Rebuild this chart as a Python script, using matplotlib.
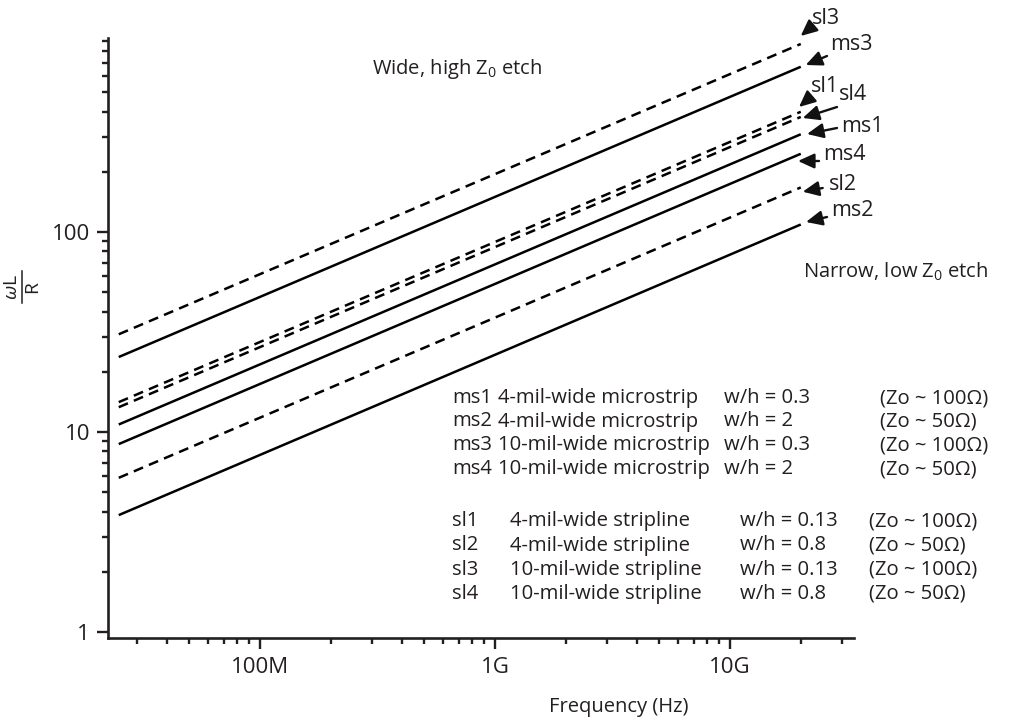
import matplotlib
matplotlib.use("Agg")
import matplotlib.pyplot as plt
from matplotlib.patches import ArrowStyle
from matplotlib.lines import Line2D

plt.rcParams['font.family'] = ['Open Sans', 'DejaVu Sans']
plt.rcParams['mathtext.fontset'] = 'custom'
plt.rcParams['mathtext.rm'] = 'Open Sans'
plt.rcParams['mathtext.it'] = 'Open Sans:italic'
plt.rcParams['mathtext.bf'] = 'Open Sans:bold'
plt.rcParams['lines.scale_dashes'] = False

# ---- data ----
freq = [25e6, 20e9]  # Hz, start and end of every line
series_names = ["sl3", "ms3", "sl1", "sl4", "ms1", "ms4", "sl2", "ms2"]
series_dashed = [True, False, True, True, False, False, True, False]
sl3 = [30.8, 871]
ms3 = [23.7, 670]
sl1 = [14.1, 399]
sl4 = [13.3, 376]
ms1 = [10.9, 308]
ms4 = [8.7, 246]
sl2 = [5.9, 167]
ms2 = [3.84, 109]
series_values = [sl3, ms3, sl1, sl4, ms1, ms4, sl2, ms2]

xticks = [1e8, 1e9, 1e10]
xtick_labels = ["100M", "1G", "10G"]
yticks = [1, 10, 100]
ytick_labels = ["1", "10", "100"]

legend_ids = ["ms1", "ms2", "ms3", "ms4", "sl1", "sl2", "sl3", "sl4"]
legend_desc = ["4-mil-wide microstrip", "4-mil-wide microstrip",
               "10-mil-wide microstrip", "10-mil-wide microstrip",
               "4-mil-wide stripline", "4-mil-wide stripline",
               "10-mil-wide stripline", "10-mil-wide stripline"]
legend_wh = ["w/h = 0.3", "w/h = 2", "w/h = 0.3", "w/h = 2",
             "w/h = 0.13", "w/h = 0.8", "w/h = 0.13", "w/h = 0.8"]
legend_zo = ["(Zo ~ 100\u03a9)", "(Zo ~ 50\u03a9)", "(Zo ~ 100\u03a9)", "(Zo ~ 50\u03a9)",
             "(Zo ~ 100\u03a9)", "(Zo ~ 50\u03a9)", "(Zo ~ 100\u03a9)", "(Zo ~ 50\u03a9)"]

TXT = '#231f20'
W, H = 1009, 727
fig = plt.figure(figsize=(W / 100, H / 100), dpi=100)
ax = fig.add_axes([108 / W, 1 - 638 / H, (854 - 108) / W, (638 - 38) / H])

for name, vals, dashed in zip(series_names, series_values, series_dashed):
    if dashed:
        ax.plot(freq, vals, color='black', lw=1.8, dashes=(7.2, 4.6),
                solid_capstyle='butt', dash_capstyle='butt')
    else:
        ax.plot(freq, vals, color='black', lw=1.8, solid_capstyle='butt')

ax.set_xscale('log')
ax.set_yscale('log')
ax.set_xlim(22.5e6, 3.37e10)
ax.set_ylim(0.933, 933)

ax.set_xticks(xticks)
ax.set_xticklabels(xtick_labels)
ax.set_yticks(yticks)
ax.set_yticklabels(ytick_labels)
ax.xaxis.set_minor_locator(matplotlib.ticker.LogLocator(base=10, subs=range(2, 10), numticks=20))
ax.yaxis.set_minor_locator(matplotlib.ticker.LogLocator(base=10, subs=range(2, 10), numticks=20))
ax.xaxis.set_minor_formatter(matplotlib.ticker.NullFormatter())
ax.yaxis.set_minor_formatter(matplotlib.ticker.NullFormatter())

for s in ['top', 'right']:
    ax.spines[s].set_visible(False)
for s in ['left', 'bottom']:
    ax.spines[s].set_linewidth(1.9)
    ax.spines[s].set_color(TXT)

ax.tick_params(which='major', direction='out', length=8, width=1.7, color=TXT,
               labelsize=16, labelcolor=TXT)
ax.tick_params(which='minor', direction='out', length=4.3, width=1.7, color=TXT)
ax.tick_params(axis='x', which='major', pad=6)
ax.tick_params(axis='y', which='major', pad=5)


def fp(x, y):
    return (x, H - y)


def ff(x, y):
    return (x / W, 1 - y / H)


# y label: rotated fraction  wL / R
fig.text(*ff(12, 287), r'$\omega$L', rotation=90, ha='center', va='center',
         fontsize=14, color=TXT)
fig.text(*ff(32, 287), 'R', rotation=90, ha='center', va='center',
         fontsize=14, color=TXT)
fig.add_artist(Line2D([22 / W, 22 / W], [1 - 271 / H, 1 - 303 / H],
                      transform=fig.transFigure, color=TXT, lw=1.1))

# x label
fig.text(*ff(619, 707), 'Frequency (Hz)', ha='center', va='center',
         fontsize=14.5, color=TXT)

# region labels
fig.text(*ff(372, 69), r'Wide, high Z$_0$ etch', ha='left', va='center',
         fontsize=14.5, color=TXT)
fig.text(*ff(988, 272), r'Narrow, low Z$_0$ etch', ha='right', va='center',
         fontsize=14.5, color=TXT)

# legend table
LFS = 14.6
row_y = [398, 421.5, 445, 469, 521, 545.5, 570, 594]
for i in range(8):
    y = row_y[i]
    is_ms = i < 4
    fig.text(*ff(452, y), legend_ids[i], ha='left', va='center', fontsize=LFS, color=TXT)
    fig.text(*ff(498 if is_ms else 510, y), legend_desc[i], ha='left', va='center',
             fontsize=LFS, color=TXT)
    fig.text(*ff(724 if is_ms else 740, y), legend_wh[i], ha='left', va='center',
             fontsize=LFS, color=TXT)
    fig.text(*ff(880 if is_ms else 869, y), legend_zo[i], ha='left', va='center',
             fontsize=LFS, color=TXT)

# line labels with arrows
label_text = ["sl3", "ms3", "sl1", "sl4", "ms1", "ms4", "sl2", "ms2"]
label_pos = [(826, 18), (851, 45), (825, 86), (853, 95), (862, 126), (844, 155), (843, 184), (852, 211)]
arrow_tail = [(811.7, 26.7), (827, 56), (811, 96.7), (837, 107), (837, 128), (819, 161), (822.7, 188), (827, 217)]
arrow_tip = [(800.7, 36), (805.7, 65), (799, 107), (802.7, 118), (807, 134), (798, 161), (802.7, 191.7), (806, 222)]
style = ArrowStyle('-|>', head_length=0.7, head_width=0.32)
for t, p, a, b in zip(label_text, label_pos, arrow_tail, arrow_tip):
    fig.text(*ff(*p), t, ha='center', va='center', fontsize=15.5, color=TXT)
    ax.annotate('', xy=fp(*b), xycoords='figure pixels', xytext=fp(*a),
                textcoords='figure pixels',
                arrowprops=dict(arrowstyle=style, color='#111111', lw=1.7,
                                mutation_scale=14, shrinkA=0, shrinkB=0),
                annotation_clip=False)

fig.savefig('out.png', dpi=100)
